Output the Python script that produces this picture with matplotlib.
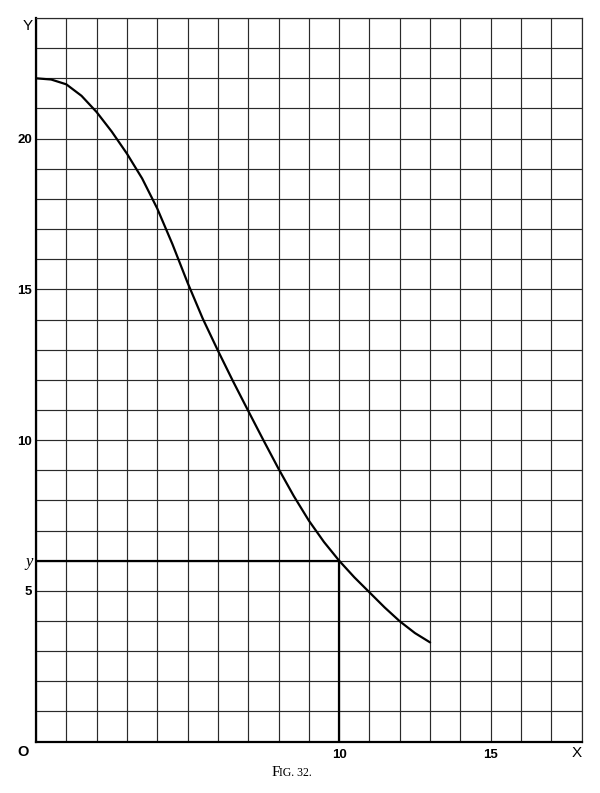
import matplotlib
matplotlib.use("Agg")
import matplotlib.pyplot as plt

# ---- data ----
curve_x = [0, 0.5, 1, 1.5, 2, 2.5, 3, 3.5, 4, 4.5, 5, 5.5, 6, 6.5, 7, 7.5,
           8, 8.5, 9, 9.5, 10, 10.5, 11, 11.5, 12, 12.5, 13]
curve_y = [22.0, 21.96, 21.8, 21.42, 20.88, 20.23, 19.5, 18.68, 17.68, 16.5,
           15.22, 14.03, 12.97, 11.95, 10.97, 10.0, 9.05, 8.15, 7.33, 6.62,
           6.0, 5.45, 4.95, 4.45, 3.99, 3.6, 3.29]
mark_x = 10
mark_y = 6
x_max, y_max = 18, 24
xtick_vals = [10, 15]
ytick_vals = [5, 10, 15, 20]

fig = plt.figure(figsize=(6.0, 7.93), dpi=100)
ax = fig.add_axes([0.06, 0.0648, 0.9095, 0.9125])
ax.set_xlim(0, x_max)
ax.set_ylim(0, y_max)

grid_col = "#2a2a2a"
ax.set_xticks(range(0, x_max + 1), minor=True)
ax.set_yticks(range(0, y_max + 1), minor=True)
ax.set_xticks(xtick_vals)
ax.set_yticks(ytick_vals)
ax.grid(which="both", color=grid_col, linewidth=0.85)
ax.tick_params(which="both", length=0)
ax.tick_params(axis="x", pad=5)
ax.tick_params(axis="y", pad=3)
for lab in ax.get_xticklabels() + ax.get_yticklabels():
    lab.set_fontfamily("Liberation Sans")
    lab.set_fontweight("bold")
    lab.set_fontsize(9.5)

for s in ["left", "bottom"]:
    ax.spines[s].set_linewidth(1.6)
    ax.spines[s].set_color("black")
for s in ["top", "right"]:
    ax.spines[s].set_linewidth(0.85)
    ax.spines[s].set_color(grid_col)

# curve
ax.plot(curve_x, curve_y, color="black", linewidth=1.6,
        solid_capstyle="round", solid_joinstyle="round", zorder=5)
# ordinate construction
ax.plot([0, mark_x], [mark_y, mark_y], color="black", linewidth=1.6, zorder=5)
ax.plot([mark_x, mark_x], [0, mark_y], color="black", linewidth=1.6, zorder=5)

# axis letters
ax.text(-0.1, y_max - 0.02, "Y", ha="right", va="top", fontsize=11,
        family="Liberation Sans", clip_on=False)
ax.text(x_max, -0.15, "X", ha="right", va="top", fontsize=11,
        family="Liberation Sans", clip_on=False)
ax.text(-0.25, -0.1, "O", ha="right", va="top", fontsize=10.5,
        family="Liberation Sans", fontweight="bold", clip_on=False)
ax.text(-0.1, mark_y - 0.05, "y", ha="right", va="center", fontsize=12,
        family="Liberation Serif", style="italic", clip_on=False)

# caption in small caps style
fig.text(0.452, 0.0215, "F", ha="left", va="baseline", fontsize=11,
         family="Liberation Serif")
fig.text(0.4645, 0.0215, "IG. 32.", ha="left", va="baseline", fontsize=8.5,
         family="Liberation Serif")

fig.savefig("out.png", dpi=100)
